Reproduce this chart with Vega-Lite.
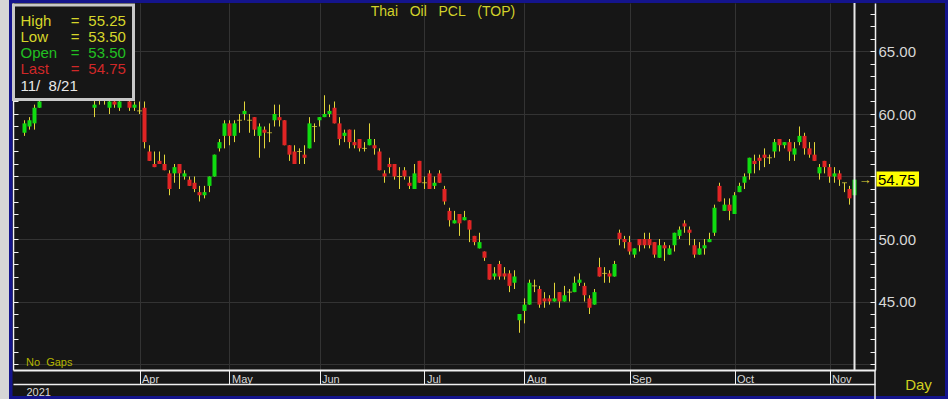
{
"$schema":"https://vega.github.io/schema/vega-lite/v6.json",
"width":862,"height":367,
"autosize":{"type":"none"},
"padding":{"left":13,"top":3,"right":73,"bottom":29},
"background":"#161616",
"config":{"view":{"stroke":null},"font":"Liberation Sans"},
"datasets":{"ohlc":[
{"i":0,"o":58.5,"h":59.5,"l":58.25,"c":59.25},
{"i":1,"o":59.0,"h":59.75,"l":58.75,"c":59.5},
{"i":2,"o":59.25,"h":60.75,"l":58.75,"c":60.5},
{"i":3,"o":60.5,"h":61.5,"l":60.5,"c":61.0},
{"i":4,"o":61.25,"h":62.25,"l":61.25,"c":62.0},
{"i":5,"o":62.0,"h":63.0,"l":61.75,"c":62.75},
{"i":6,"o":62.75,"h":63.5,"l":62.25,"c":62.5},
{"i":7,"o":62.5,"h":63.25,"l":62.0,"c":63.0},
{"i":8,"o":63.0,"h":64.0,"l":62.75,"c":63.5},
{"i":9,"o":63.5,"h":63.75,"l":62.5,"c":62.75},
{"i":10,"o":62.75,"h":63.0,"l":61.75,"c":62.0},
{"i":11,"o":62.0,"h":62.5,"l":61.5,"c":62.25},
{"i":12,"o":62.25,"h":62.5,"l":61.5,"c":61.75},
{"i":13,"o":61.75,"h":62.0,"l":61.25,"c":61.5},
{"i":14,"o":60.5,"h":61.25,"l":59.75,"c":60.75},
{"i":15,"o":61.25,"h":61.75,"l":60.75,"c":61.25},
{"i":16,"o":61.5,"h":61.75,"l":60.75,"c":61.25},
{"i":17,"o":60.5,"h":61.5,"l":60.0,"c":61.0},
{"i":18,"o":61.0,"h":61.5,"l":60.5,"c":60.75},
{"i":19,"o":60.5,"h":61.25,"l":60.25,"c":61.0},
{"i":20,"o":61.25,"h":61.75,"l":61.25,"c":61.5},
{"i":21,"o":61.0,"h":61.25,"l":60.25,"c":60.5},
{"i":22,"o":60.5,"h":61.0,"l":60.25,"c":60.75},
{"i":23,"o":60.25,"h":61.0,"l":60.0,"c":60.25},
{"i":24,"o":60.5,"h":61.0,"l":57.25,"c":57.75},
{"i":25,"o":57.0,"h":57.5,"l":56.25,"c":56.25},
{"i":26,"o":56.0,"h":57.0,"l":55.75,"c":55.75},
{"i":27,"o":56.25,"h":57.0,"l":56.0,"c":56.0},
{"i":28,"o":56.0,"h":56.75,"l":55.5,"c":55.5},
{"i":29,"o":55.25,"h":55.5,"l":53.5,"c":54.0},
{"i":30,"o":55.25,"h":56.0,"l":54.5,"c":55.75},
{"i":31,"o":56.0,"h":56.0,"l":54.0,"c":55.25},
{"i":32,"o":55.0,"h":55.5,"l":54.75,"c":55.25},
{"i":33,"o":54.75,"h":55.0,"l":54.25,"c":54.25},
{"i":34,"o":54.5,"h":55.0,"l":53.75,"c":54.0},
{"i":35,"o":53.75,"h":54.25,"l":53.0,"c":53.5},
{"i":36,"o":53.5,"h":54.25,"l":53.25,"c":53.75},
{"i":37,"o":54.25,"h":55.0,"l":53.75,"c":55.0},
{"i":38,"o":55.0,"h":56.75,"l":55.0,"c":56.75},
{"i":39,"o":57.25,"h":58.0,"l":57.0,"c":57.75},
{"i":40,"o":58.25,"h":59.5,"l":57.25,"c":59.25},
{"i":41,"o":59.25,"h":59.5,"l":57.5,"c":58.25},
{"i":42,"o":58.25,"h":59.5,"l":57.75,"c":59.25},
{"i":43,"o":59.5,"h":60.0,"l":58.5,"c":59.5},
{"i":44,"o":60.0,"h":61.0,"l":59.5,"c":60.25},
{"i":45,"o":59.5,"h":60.0,"l":58.5,"c":59.5},
{"i":46,"o":59.75,"h":59.75,"l":58.25,"c":58.75},
{"i":47,"o":58.25,"h":59.25,"l":56.5,"c":59.0},
{"i":48,"o":58.75,"h":59.0,"l":57.25,"c":58.5},
{"i":49,"o":58.5,"h":59.25,"l":57.75,"c":58.5},
{"i":50,"o":59.5,"h":60.75,"l":59.0,"c":60.0},
{"i":51,"o":59.75,"h":60.75,"l":59.0,"c":59.5},
{"i":52,"o":59.5,"h":59.5,"l":57.5,"c":57.5},
{"i":53,"o":57.5,"h":57.5,"l":56.25,"c":56.75},
{"i":54,"o":57.0,"h":57.5,"l":56.0,"c":56.0},
{"i":55,"o":57.0,"h":57.25,"l":56.0,"c":57.0},
{"i":56,"o":56.75,"h":57.5,"l":56.0,"c":56.5},
{"i":57,"o":57.25,"h":59.75,"l":57.25,"c":59.25},
{"i":58,"o":59.0,"h":59.25,"l":57.75,"c":59.0},
{"i":59,"o":59.5,"h":59.75,"l":59.0,"c":59.75},
{"i":60,"o":59.75,"h":61.5,"l":59.75,"c":60.0},
{"i":61,"o":60.0,"h":60.75,"l":59.75,"c":60.25},
{"i":62,"o":60.5,"h":61.0,"l":59.25,"c":59.25},
{"i":63,"o":59.25,"h":59.75,"l":57.5,"c":58.0},
{"i":64,"o":58.25,"h":58.75,"l":57.75,"c":58.5},
{"i":65,"o":58.75,"h":58.75,"l":57.25,"c":57.75},
{"i":66,"o":57.75,"h":58.75,"l":57.25,"c":57.5},
{"i":67,"o":58.0,"h":58.0,"l":57.0,"c":57.25},
{"i":68,"o":57.25,"h":57.75,"l":57.0,"c":57.25},
{"i":69,"o":57.5,"h":59.25,"l":57.5,"c":58.0},
{"i":70,"o":57.5,"h":58.0,"l":56.75,"c":57.25},
{"i":71,"o":57.0,"h":57.25,"l":55.5,"c":55.5},
{"i":72,"o":55.25,"h":55.5,"l":54.5,"c":55.0},
{"i":73,"o":56.0,"h":56.5,"l":55.25,"c":55.75},
{"i":74,"o":56.0,"h":56.0,"l":54.75,"c":55.0},
{"i":75,"o":55.0,"h":55.75,"l":54.0,"c":55.0},
{"i":76,"o":55.5,"h":55.75,"l":54.75,"c":55.0},
{"i":77,"o":54.5,"h":55.0,"l":54.0,"c":54.25},
{"i":78,"o":54.0,"h":56.0,"l":54.0,"c":55.25},
{"i":79,"o":56.25,"h":56.25,"l":54.5,"c":54.5},
{"i":80,"o":54.5,"h":55.0,"l":54.0,"c":54.5},
{"i":81,"o":55.25,"h":55.5,"l":54.0,"c":54.0},
{"i":82,"o":54.25,"h":55.0,"l":54.0,"c":54.5},
{"i":83,"o":55.25,"h":55.5,"l":54.5,"c":54.5},
{"i":84,"o":54.0,"h":54.25,"l":52.75,"c":53.0},
{"i":85,"o":52.25,"h":52.5,"l":51.0,"c":51.5},
{"i":86,"o":51.25,"h":52.25,"l":51.25,"c":51.5},
{"i":87,"o":52.0,"h":52.0,"l":50.25,"c":51.25},
{"i":88,"o":51.5,"h":52.25,"l":51.5,"c":51.75},
{"i":89,"o":51.5,"h":51.5,"l":49.75,"c":50.75},
{"i":90,"o":50.25,"h":50.25,"l":49.5,"c":49.75},
{"i":91,"o":49.25,"h":50.5,"l":49.25,"c":49.75},
{"i":92,"o":49.0,"h":49.0,"l":48.25,"c":48.5},
{"i":93,"o":48.0,"h":48.0,"l":46.75,"c":46.75},
{"i":94,"o":47.0,"h":47.75,"l":46.75,"c":47.25},
{"i":95,"o":48.0,"h":48.25,"l":46.75,"c":47.0},
{"i":96,"o":47.25,"h":47.75,"l":46.75,"c":47.0},
{"i":97,"o":47.25,"h":47.5,"l":45.75,"c":46.25},
{"i":98,"o":46.5,"h":47.5,"l":46.0,"c":47.0},
{"i":99,"o":43.5,"h":44.0,"l":42.5,"c":44.0},
{"i":100,"o":44.25,"h":45.25,"l":43.25,"c":44.75},
{"i":101,"o":44.75,"h":46.75,"l":44.75,"c":46.5},
{"i":102,"o":46.25,"h":46.75,"l":45.75,"c":46.25},
{"i":103,"o":46.0,"h":46.25,"l":44.5,"c":44.75},
{"i":104,"o":45.25,"h":45.75,"l":44.5,"c":45.0},
{"i":105,"o":45.25,"h":45.5,"l":44.75,"c":45.0},
{"i":106,"o":45.0,"h":46.5,"l":45.0,"c":45.25},
{"i":107,"o":45.75,"h":45.75,"l":44.5,"c":45.0},
{"i":108,"o":45.0,"h":46.25,"l":45.0,"c":45.5},
{"i":109,"o":45.75,"h":46.0,"l":45.0,"c":45.75},
{"i":110,"o":45.75,"h":47.0,"l":45.75,"c":46.5},
{"i":111,"o":46.5,"h":47.25,"l":46.25,"c":46.75},
{"i":112,"o":46.25,"h":46.5,"l":45.0,"c":45.5},
{"i":113,"o":45.25,"h":45.5,"l":44.0,"c":44.5},
{"i":114,"o":44.75,"h":46.0,"l":44.75,"c":45.75},
{"i":115,"o":47.75,"h":48.5,"l":47.0,"c":47.0},
{"i":116,"o":47.25,"h":47.75,"l":46.5,"c":47.25},
{"i":117,"o":47.25,"h":47.5,"l":46.5,"c":47.0},
{"i":118,"o":47.0,"h":48.25,"l":47.0,"c":48.0},
{"i":119,"o":50.5,"h":50.75,"l":49.5,"c":50.0},
{"i":120,"o":50.0,"h":50.25,"l":49.25,"c":49.75},
{"i":121,"o":49.75,"h":50.25,"l":48.75,"c":49.0},
{"i":122,"o":48.75,"h":49.25,"l":48.5,"c":49.25},
{"i":123,"o":50.0,"h":50.0,"l":49.0,"c":49.5},
{"i":124,"o":50.0,"h":50.5,"l":49.25,"c":49.5},
{"i":125,"o":50.0,"h":50.5,"l":49.25,"c":49.5},
{"i":126,"o":49.75,"h":49.75,"l":48.5,"c":48.75},
{"i":127,"o":48.5,"h":50.0,"l":48.5,"c":49.5},
{"i":128,"o":49.5,"h":49.75,"l":48.25,"c":49.25},
{"i":129,"o":48.75,"h":49.5,"l":48.75,"c":49.25},
{"i":130,"o":49.5,"h":50.5,"l":49.0,"c":50.5},
{"i":131,"o":50.25,"h":51.0,"l":50.0,"c":50.75},
{"i":132,"o":51.25,"h":51.5,"l":50.5,"c":51.0},
{"i":133,"o":50.75,"h":51.0,"l":49.5,"c":50.5},
{"i":134,"o":49.5,"h":50.0,"l":48.5,"c":48.75},
{"i":135,"o":48.75,"h":49.75,"l":48.75,"c":49.25},
{"i":136,"o":49.25,"h":50.0,"l":48.75,"c":49.5},
{"i":137,"o":49.75,"h":50.5,"l":49.75,"c":50.0},
{"i":138,"o":50.5,"h":52.75,"l":50.25,"c":52.5},
{"i":139,"o":54.25,"h":54.5,"l":53.0,"c":53.0},
{"i":140,"o":52.25,"h":53.25,"l":52.25,"c":52.75},
{"i":141,"o":52.75,"h":53.25,"l":51.5,"c":52.25},
{"i":142,"o":52.0,"h":53.75,"l":52.0,"c":53.5},
{"i":143,"o":53.75,"h":54.5,"l":53.75,"c":54.25},
{"i":144,"o":54.5,"h":55.25,"l":54.0,"c":55.0},
{"i":145,"o":55.25,"h":56.5,"l":54.75,"c":56.5},
{"i":146,"o":56.25,"h":56.75,"l":55.25,"c":56.0},
{"i":147,"o":56.5,"h":56.75,"l":55.5,"c":56.25},
{"i":148,"o":56.75,"h":57.25,"l":55.75,"c":56.5},
{"i":149,"o":56.5,"h":56.75,"l":56.0,"c":56.5},
{"i":150,"o":57.0,"h":58.0,"l":56.5,"c":57.75},
{"i":151,"o":58.0,"h":58.0,"l":57.0,"c":57.5},
{"i":152,"o":57.5,"h":57.75,"l":57.25,"c":57.75},
{"i":153,"o":57.75,"h":58.0,"l":56.25,"c":57.0},
{"i":154,"o":56.75,"h":57.75,"l":56.25,"c":57.25},
{"i":155,"o":57.75,"h":59.0,"l":57.5,"c":58.25},
{"i":156,"o":58.25,"h":58.5,"l":56.75,"c":57.25},
{"i":157,"o":57.25,"h":57.75,"l":56.5,"c":56.75},
{"i":158,"o":56.75,"h":57.75,"l":56.25,"c":56.25},
{"i":159,"o":55.25,"h":56.0,"l":54.75,"c":55.75},
{"i":160,"o":56.25,"h":56.25,"l":55.25,"c":55.75},
{"i":161,"o":55.75,"h":56.0,"l":54.5,"c":55.0},
{"i":162,"o":55.0,"h":55.75,"l":54.5,"c":55.25},
{"i":163,"o":55.25,"h":55.5,"l":54.25,"c":54.75},
{"i":164,"o":54.5,"h":54.5,"l":53.75,"c":54.5},
{"i":165,"o":54.0,"h":54.25,"l":52.75,"c":53.25},
{"i":166,"o":53.5,"h":55.25,"l":53.5,"c":54.75}
]},
"layer":[
{"layer":[
 {"data":{"values":[{}]},"mark":{"type":"rect","color":"#d6d6d6"},"encoding":{"x":{"datum":-4.9},"x2":{"datum":-3.1},"y":{"datum":69.12},"y2":{"datum":37.2}}},
 {"data":{"values":[{}]},"mark":{"type":"rect","color":"#14148c"},"encoding":{"x":{"datum":-3.1},"x2":{"datum":-2.4},"y":{"datum":69.12},"y2":{"datum":37.2}}},
 {"data":{"values":[{}]},"mark":{"type":"rect","color":"#14148c"},"encoding":{"x":{"datum":-3.1},"x2":{"datum":184.7},"y":{"datum":69.12},"y2":{"datum":68.88}}},
 {"data":{"values":[{}]},"mark":{"type":"rect","color":"#14148c"},"encoding":{"x":{"datum":184.1},"x2":{"datum":184.7},"y":{"datum":69.12},"y2":{"datum":37.2}}},
 {"data":{"values":[{}]},"mark":{"type":"rect","color":"#14148c"},"encoding":{"x":{"datum":-3.1},"x2":{"datum":184.7},"y":{"datum":37.44},"y2":{"datum":37.2}}},
 {"data":{"name":"ohlc"},"mark":{"type":"rule","color":"#e2d63a","strokeWidth":1},
  "encoding":{
   "x":{"field":"i","type":"quantitative","scale":{"domain":[-2.3,170.1],"nice":false,"zero":false,"padding":0},
    "axis":{"orient":"bottom","title":null,"values":[23,41,59,80,100,121,142,161],"tickCount":100,
     "labelExpr":"['Apr','May','Jun','Jul','Aug','Sep','Oct','Nov'][indexof([23,41,59,80,100,121,142,161], datum.value)]",
     "domainColor":"#f0f0f0","domainWidth":2,"tickColor":"#f0f0f0","tickSize":14,"tickWidth":1,
     "labelAlign":"left","labelBaseline":"top","labelPadding":-11,"labelOffset":2,
     "labelColor":"#d8d8d8","labelFontSize":11,"labelOverlap":false,"labelFlush":false,
     "grid":true,"gridColor":"#333333","gridWidth":1}},
   "y":{"field":"l","type":"quantitative","scale":{"domain":[39.52,68.88],"nice":false,"zero":false,"padding":0},
    "axis":{"orient":"right","title":null,"values":[40,41,42,43,44,45,46,47,48,49,50,51,52,53,54,55,56,57,58,59,60,61,62,63,64,65,66,67,68],"tickCount":100,
     "labelExpr":"(datum.value % 5 == 0 && datum.value > 40 && datum.value != 55) ? format(datum.value, '.2f') : ''",
     "domainColor":"#f0f0f0","domainWidth":1.5,"tickColor":"#f0f0f0","tickSize":-5,"tickWidth":1,
     "labelPadding":8,"labelColor":"#d8d8d8","labelFontSize":15,"labelAlign":"left","labelBaseline":"middle","labelOverlap":false,
     "grid":true,"gridColor":"#333333","gridOpacity":{"condition":{"test":"datum.value % 5 == 0","value":1},"value":0}}},
   "y2":{"field":"h"}}},
 {"data":{"name":"ohlc"},"mark":{"type":"bar","size":4},
  "encoding":{"x":{"field":"i","type":"quantitative"},"y":{"field":"o","type":"quantitative"},"y2":{"field":"c"},
   "color":{"condition":{"test":"datum.c > datum.o","value":"#10dc10"},"value":"#e02424"}}},
 {"data":{"name":"ohlc"},"transform":[{"filter":"datum.o == datum.c"}],"mark":{"type":"tick","orient":"horizontal","size":5,"thickness":1,"color":"#e2d63a"},
  "encoding":{"x":{"field":"i","type":"quantitative"},"y":{"field":"o","type":"quantitative"}}},
 {"data":{"values":[{}]},"mark":{"type":"rule","color":"#f0f0f0","strokeWidth":1.5},"encoding":{"x":{"datum":170.1},"y":{"datum":39.52},"y2":{"datum":37.2}}},
 {"data":{"values":[{}]},"mark":{"type":"rect","fill":"#161616","stroke":"#c8c8c8","strokeWidth":3},"encoding":{"x":{"datum":-2.2},"x2":{"datum":21.8},"y":{"datum":68.72},"y2":{"datum":61.16}}},
 {"data":{"values":[{}]},"mark":{"type":"text","text":"High","align":"left","baseline":"middle","fontSize":15,"color":"#d6d62a"},"encoding":{"x":{"datum":-0.8},"y":{"datum":67.46}}},
 {"data":{"values":[{}]},"mark":{"type":"text","text":"=","align":"left","baseline":"middle","fontSize":15,"color":"#d6d62a"},"encoding":{"x":{"datum":9.24},"y":{"datum":67.46}}},
 {"data":{"name":"ohlc"},"transform":[{"filter":"datum.i == 166"}],"mark":{"type":"text","align":"left","baseline":"middle","fontSize":15,"color":"#d6d62a"},"encoding":{"x":{"datum":12.76},"y":{"datum":67.46},"text":{"field":"h","type":"quantitative","format":".2f"}}},
 {"data":{"values":[{}]},"mark":{"type":"text","text":"Low","align":"left","baseline":"middle","fontSize":15,"color":"#d6d62a"},"encoding":{"x":{"datum":-0.8},"y":{"datum":66.18}}},
 {"data":{"values":[{}]},"mark":{"type":"text","text":"=","align":"left","baseline":"middle","fontSize":15,"color":"#d6d62a"},"encoding":{"x":{"datum":9.24},"y":{"datum":66.18}}},
 {"data":{"name":"ohlc"},"transform":[{"filter":"datum.i == 166"}],"mark":{"type":"text","align":"left","baseline":"middle","fontSize":15,"color":"#d6d62a"},"encoding":{"x":{"datum":12.76},"y":{"datum":66.18},"text":{"field":"l","type":"quantitative","format":".2f"}}},
 {"data":{"values":[{}]},"mark":{"type":"text","text":"Open","align":"left","baseline":"middle","fontSize":15,"color":"#22c022"},"encoding":{"x":{"datum":-0.8},"y":{"datum":64.86}}},
 {"data":{"values":[{}]},"mark":{"type":"text","text":"=","align":"left","baseline":"middle","fontSize":15,"color":"#22c022"},"encoding":{"x":{"datum":9.24},"y":{"datum":64.86}}},
 {"data":{"name":"ohlc"},"transform":[{"filter":"datum.i == 166"}],"mark":{"type":"text","align":"left","baseline":"middle","fontSize":15,"color":"#22c022"},"encoding":{"x":{"datum":12.76},"y":{"datum":64.86},"text":{"field":"o","type":"quantitative","format":".2f"}}},
 {"data":{"values":[{}]},"mark":{"type":"text","text":"Last","align":"left","baseline":"middle","fontSize":15,"color":"#d02828"},"encoding":{"x":{"datum":-0.8},"y":{"datum":63.58}}},
 {"data":{"values":[{}]},"mark":{"type":"text","text":"=","align":"left","baseline":"middle","fontSize":15,"color":"#d02828"},"encoding":{"x":{"datum":9.24},"y":{"datum":63.58}}},
 {"data":{"name":"ohlc"},"transform":[{"filter":"datum.i == 166"}],"mark":{"type":"text","align":"left","baseline":"middle","fontSize":15,"color":"#d02828"},"encoding":{"x":{"datum":12.76},"y":{"datum":63.58},"text":{"field":"c","type":"quantitative","format":".2f"}}},
 {"data":{"values":[{}]},"mark":{"type":"text","text":"11/\u00a0\u00a08/21","align":"left","baseline":"middle","fontSize":15,"color":"#e8e8e8"},"encoding":{"x":{"datum":-0.8},"y":{"datum":62.24}}},
 {"data":{"values":[{}]},"mark":{"type":"text","text":"Thai\u00a0\u00a0 Oil\u00a0\u00a0 PCL\u00a0\u00a0 (TOP)","align":"center","baseline":"middle","fontSize":14,"color":"#d2d22a"},"encoding":{"x":{"datum":83.7},"y":{"datum":68.16}}},
 {"data":{"values":[{}]},"mark":{"type":"text","text":"No\u00a0 Gaps","align":"left","baseline":"middle","fontSize":11,"color":"#b4b400"},"encoding":{"x":{"datum":0.3},"y":{"datum":40.08}}},
 {"data":{"values":[{}]},"mark":{"type":"rect","fill":"#ffff00"},"encoding":{"x":{"datum":170.4},"x2":{"datum":178.9},"y":{"datum":55.4},"y2":{"datum":54.2}}},
 {"data":{"name":"ohlc"},"transform":[{"filter":"datum.i == 166"}],"mark":{"type":"text","align":"left","baseline":"middle","fontSize":15,"color":"#000000"},"encoding":{"x":{"datum":170.7},"y":{"field":"c","type":"quantitative"},"text":{"field":"c","type":"quantitative","format":".2f"}}},
 {"data":{"name":"ohlc"},"transform":[{"filter":"datum.i == 166"}],"mark":{"type":"text","text":"→","align":"center","baseline":"middle","fontSize":13,"color":"#e2d63a"},"encoding":{"x":{"datum":168.1},"y":{"field":"c","type":"quantitative"}}},
 {"data":{"values":[{}]},"mark":{"type":"text","text":"Day","align":"center","baseline":"middle","fontSize":15,"color":"#d0d020"},"encoding":{"x":{"datum":178.8},"y":{"datum":38.32}}}
]},
{"data":{"values":[{}]},"mark":{"type":"rule","color":"#e8e8e8","strokeWidth":2},
 "encoding":{
  "x":{"datum":166,"type":"quantitative","scale":{"domain":[-2.3,170.1],"nice":false,"zero":false,"padding":0},
   "axis":{"orient":"bottom","offset":14,"title":null,"values":[0],"labelExpr":"'2021'","domainColor":"#f0f0f0","domainWidth":1.5,
    "ticks":false,"tickSize":0,"labelAlign":"left","labelBaseline":"middle","labelPadding":8,"labelOffset":1.5,
    "labelColor":"#d8d8d8","labelFontSize":11,"grid":false,"labelFlush":false}},
  "y":{"datum":68.88,"type":"quantitative","scale":{"domain":[39.52,68.88],"nice":false,"zero":false,"padding":0},
   "axis":{"orient":"left","title":null,"values":[40,41,42,43,44,45,46,47,48,49,50,51,52,53,54,55,56,57,58,59,60,61,62,63,64,65,66,67,68],"tickCount":100,
    "labels":false,"domainColor":"#f0f0f0","domainWidth":1.5,"tickColor":"#f0f0f0","tickSize":-5,"tickWidth":1,"grid":false}},
  "y2":{"datum":39.52}}}
],
"resolve":{"axis":{"x":"independent","y":"independent"}}
}
